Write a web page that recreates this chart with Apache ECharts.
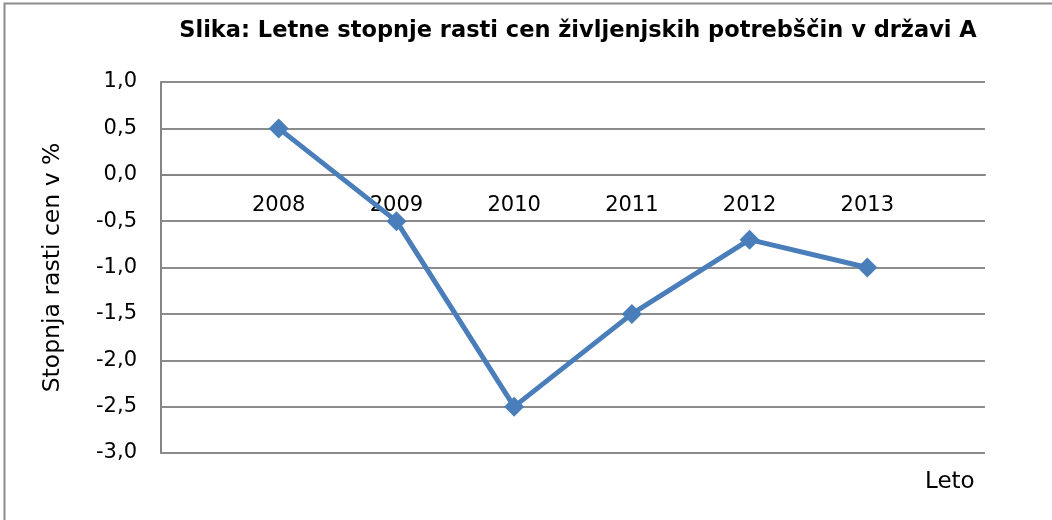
<!DOCTYPE html>
<html>
<head>
<meta charset="utf-8">
<script src="https://cdn.jsdelivr.net/npm/echarts@6/dist/echarts.min.js"></script>
<style>
html,body{margin:0;padding:0;background:#fff;}
#c{width:1052px;height:520px;}
</style>
</head>
<body>
<div id="c"></div>
<script>
const titleText = 'Slika: Letne stopnje rasti cen življenjskih potrebščin v državi A';
const yAxisName = 'Stopnja rasti cen v %';
const xAxisName = 'Leto';
const categories = ['', '2008', '2009', '2010', '2011', '2012', '2013', ''];
const values = ['-', 0.5, -0.5, -2.5, -1.5, -0.7, -1.0, '-'];
const yMin = -3.0, yMax = 1.0, yStep = 0.5;

const gridTop = 82, gridBottom = 67;
const plotH = 520 - gridTop - gridBottom;
const zeroOffset = -plotH * (0 - yMin) / (yMax - yMin);

const chart = echarts.init(document.getElementById('c'), null, {renderer: 'canvas'});
const font = '"DejaVu Sans", sans-serif';
chart.setOption({
  animation: false,
  backgroundColor: '#fff',
  title: {
    text: titleText,
    left: 573, top: 15, textAlign: 'center',
    textStyle: {fontFamily: font, fontSize: 22.5, fontWeight: 'bold', color: '#000'}
  },
  grid: {left: 161, top: gridTop, right: 67, bottom: gridBottom, containLabel: false},
  xAxis: {
    type: 'category',
    data: categories,
    boundaryGap: false,
    offset: zeroOffset,
    axisLine: {onZero: false, lineStyle: {color: '#858585', width: 2}},
    axisTick: {show: false},
    axisLabel: {fontFamily: font, fontSize: 21, color: '#000', margin: 20, interval: 0},
    splitLine: {show: false}
  },
  yAxis: {
    type: 'value',
    min: yMin, max: yMax, interval: yStep,
    name: yAxisName,
    nameLocation: 'middle',
    nameGap: 96,
    nameRotate: 90,
    nameTextStyle: {fontFamily: font, fontSize: 23.5, color: '#000'},
    axisLine: {show: true, lineStyle: {color: '#858585', width: 2}},
    axisTick: {show: false},
    axisLabel: {fontFamily: font, fontSize: 21, color: '#000', margin: 24,
      formatter: v => v.toFixed(1).replace('.', ',')},
    splitLine: {show: true, lineStyle: {color: '#8c8c8c', width: 2}}
  },
  series: [{
    type: 'line',
    data: values,
    symbol: 'diamond',
    symbolSize: 20,
    itemStyle: {color: '#4a7ebb'},
    lineStyle: {color: '#4a7ebb', width: 5},
    connectNulls: false
  }],
  graphic: [
    {type: 'rect', shape: {x: 4.5, y: 3.5, width: 1100, height: 600},
      style: {fill: 'none', stroke: '#8c8c8c', lineWidth: 2}, silent: true},
    {type: 'text', left: 925, top: 471,
      style: {text: xAxisName, font: '23px ' + font, fill: '#000'}}
  ]
});
</script>
</body>
</html>
